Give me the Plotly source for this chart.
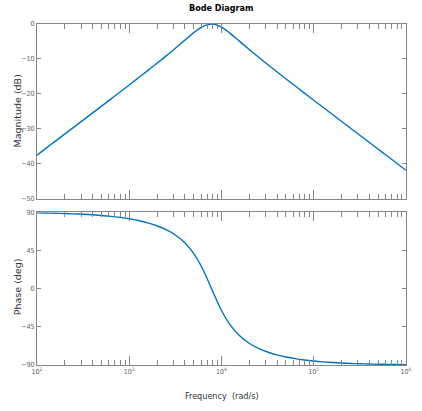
import plotly.graph_objects as go

# Frequency samples (log10 of rad/s) and read values
log_freq = [2.0, 2.1, 2.2, 2.3, 2.4, 2.5, 2.6, 2.7, 2.8, 2.9,
            3.0, 3.1, 3.2, 3.3, 3.4, 3.5, 3.6, 3.7, 3.8, 3.9,
            4.0, 4.1, 4.2, 4.3, 4.4, 4.5, 4.6, 4.7, 4.8, 4.9,
            5.0, 5.1, 5.2, 5.3, 5.4, 5.5, 5.6, 5.7, 5.8, 5.9, 6.0]
magnitude_db = [-37.49, -35.48, -33.48, -31.48, -29.48, -27.48, -25.48, -23.47, -21.46, -19.44,
                -17.42, -15.38, -13.32, -11.24, -9.11, -6.91, -4.68, -2.48, -0.67, -0.01,
                -0.91, -2.82, -5.03, -7.27, -9.45, -11.57, -13.66, -15.71, -17.74, -19.77,
                -21.78, -23.79, -25.79, -27.80, -29.80, -31.80, -33.80, -35.81, -37.81, -39.81, -41.81]
phase_deg = [89.23, 89.04, 88.79, 88.47, 88.08, 87.58, 86.95, 86.16, 85.15, 83.88,
             82.27, 80.20, 77.55, 74.08, 69.48, 63.18, 54.29, 41.25, 22.29, -2.03,
             -25.76, -43.69, -55.94, -64.33, -70.31, -74.70, -78.02, -80.57, -82.55, -84.10,
             -85.33, -86.29, -87.06, -87.67, -88.15, -88.53, -88.83, -89.07, -89.26, -89.41, -89.53]

freq = [10 ** v for v in log_freq]

x_tick_vals = [1e2, 1e3, 1e4, 1e5, 1e6]
x_tick_text = ["10<sup>2</sup>", "10<sup>3</sup>", "10<sup>4</sup>", "10<sup>5</sup>", "10<sup>6</sup>"]
minor_vals = [m * 10 ** d for d in range(2, 6) for m in range(2, 10)]
mag_ticks = [0, -10, -20, -30, -40, -50]
phase_ticks = [90, 45, 0, -45, -90]

LINE_COLOR = "#0072BD"
AXIS_COLOR = "#868686"
NARROW = "Liberation Sans Narrow, DejaVu Sans Condensed, sans-serif"
TICK_FONT = dict(family=NARROW, size=7, color="#606060")

fig = go.Figure()
fig.add_trace(go.Scatter(x=freq, y=magnitude_db, mode="lines", line=dict(color=LINE_COLOR, width=1.4, shape="spline"),
                         xaxis="x", yaxis="y", showlegend=False))
fig.add_trace(go.Scatter(x=freq, y=phase_deg, mode="lines", line=dict(color=LINE_COLOR, width=1.4, shape="spline"),
                         xaxis="x2", yaxis="y2", showlegend=False))

common_x = dict(type="log", range=[2, 6], showgrid=False, zeroline=False, showline=True, linecolor=AXIS_COLOR,
                linewidth=1, mirror="ticks", ticks="inside", ticklen=9, tickcolor=AXIS_COLOR, tickwidth=1,
                tickvals=x_tick_vals,
                minor=dict(tickvals=minor_vals, ticks="inside", ticklen=5, tickcolor=AXIS_COLOR, tickwidth=1, showgrid=False))
common_y = dict(showgrid=False, zeroline=False, showline=True, linecolor=AXIS_COLOR, linewidth=1, mirror="ticks",
                ticks="inside", ticklen=4, tickcolor=AXIS_COLOR, tickfont=TICK_FONT)

fig.update_layout(
    width=422, height=411,
    margin=dict(l=37, r=10, t=24, b=46),
    paper_bgcolor="white", plot_bgcolor="white",
    xaxis=dict(**common_x, anchor="y", showticklabels=False, matches="x2"),
    yaxis=dict(**common_y, domain=[0.487, 1.0], range=[-50, 0], tickvals=mag_ticks, anchor="x"),
    xaxis2=dict(**common_x, anchor="y2", ticktext=x_tick_text, tickfont=TICK_FONT),
    yaxis2=dict(**common_y, domain=[0.0, 0.448], range=[-90, 90], tickvals=phase_ticks, anchor="x2"),
    annotations=[
        dict(text="<b>Bode Diagram</b>", x=0.5, y=1.0, xref="paper", yref="paper", yanchor="bottom",
             yshift=9, showarrow=False,
             font=dict(family=NARROW, size=9, color="#000000")),
        dict(text="Magnitude (dB)", x=0, y=0.7435, xref="paper", yref="paper", xanchor="center",
             yanchor="middle", xshift=-20, textangle=-90, showarrow=False,
             font=dict(family="DejaVu Sans, sans-serif", size=9.5, color="#333333")),
        dict(text="Phase (deg)", x=0, y=0.228, xref="paper", yref="paper", xanchor="center",
             yanchor="middle", xshift=-20, textangle=-90, showarrow=False,
             font=dict(family="DejaVu Sans, sans-serif", size=9.5, color="#333333")),
        dict(text="Frequency  (rad/s)", x=0.5, y=0, xref="paper", yref="paper", yanchor="top",
             yshift=-24, showarrow=False,
             font=dict(family=NARROW, size=9, color="#333333")),
    ],
)

fig.write_html("out.html", config={"displayModeBar": False},
               post_script="document.body.style.margin='0';document.body.style.overflow='hidden';")
